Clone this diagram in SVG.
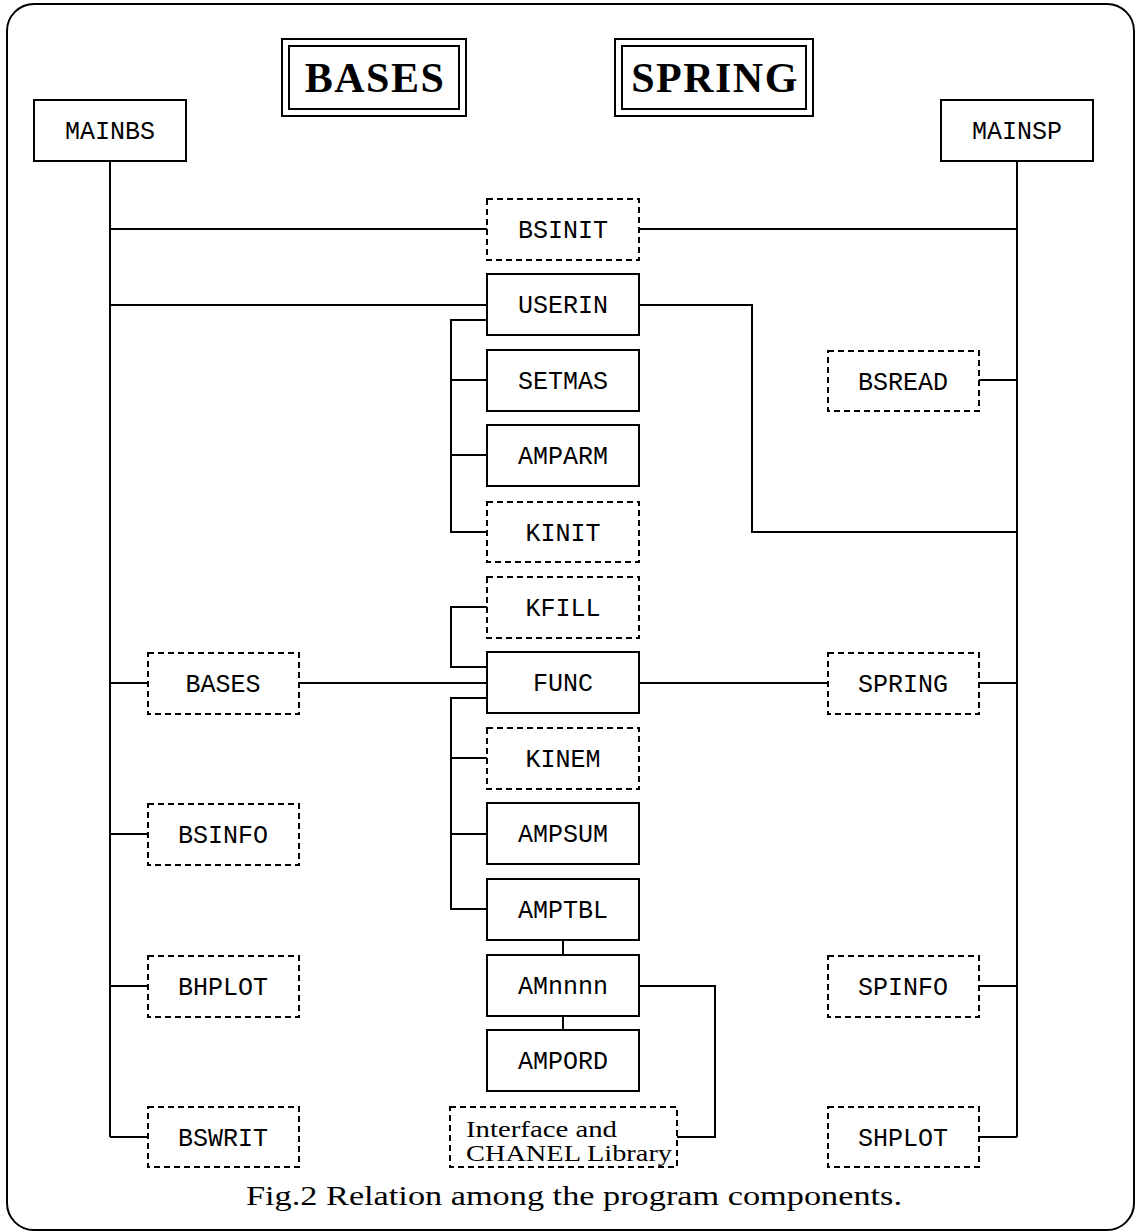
<svg xmlns="http://www.w3.org/2000/svg" width="1136" height="1232" viewBox="0 0 1136 1232">
<style>
.b{fill:#fff;stroke:#000;stroke-width:2}
.d{fill:#fff;stroke:#000;stroke-width:2;stroke-dasharray:6 4}
.t{font-family:"Liberation Mono","DejaVu Sans Mono",monospace;font-size:25px;text-anchor:middle;fill:#000}
.h{font-family:"Liberation Serif","Times New Roman",serif;font-size:42px;font-weight:bold;text-anchor:middle;letter-spacing:1.5px;fill:#000}
.s{font-family:"Liberation Serif","Times New Roman",serif;fill:#000}
#conn path{fill:none;stroke:#000;stroke-width:2}
</style>
<rect x="7" y="4" width="1127" height="1226" rx="27" ry="27" fill="#fff" stroke="#000" stroke-width="2"/>
<g id="conn">
<path d="M110 161V1137M1017 161V1137"/>
<path d="M110 229H487M639 229H1017"/>
<path d="M110 305H487M639 305H752V532H1017"/>
<path d="M487 320H451V532H487M451 380H487M451 455H487"/>
<path d="M979 380H1017"/>
<path d="M487 607H451V667H487"/>
<path d="M299 683H487M639 683H828M979 683H1017"/>
<path d="M110 683H148M110 834H148M110 986H148M110 1137H148"/>
<path d="M487 698H451V909H487M451 758H487M451 834H487"/>
<path d="M563 940V955M563 1016V1030"/>
<path d="M639 986H715V1137H677"/>
<path d="M979 986H1017M979 1137H1017"/>
</g>
<g id="title-bases"><rect class="b" x="282" y="39" width="184" height="77"/><rect class="b" x="289" y="46" width="170" height="63"/><text class="h" x="375" y="92">BASES</text></g>
<g id="title-spring"><rect class="b" x="615" y="39" width="198" height="77"/><rect class="b" x="622" y="46" width="184" height="63"/><text class="h" x="715" y="92">SPRING</text></g>
<g id="mainbs"><rect class="b" x="34" y="100" width="152" height="61"/><text class="t" x="110" y="139">MAINBS</text></g>
<g id="mainsp"><rect class="b" x="941" y="100" width="152" height="61"/><text class="t" x="1017" y="139">MAINSP</text></g>
<g id="bsinit"><rect class="d" x="487" y="199" width="152" height="61"/><text class="t" x="563" y="238">BSINIT</text></g>
<g id="userin"><rect class="b" x="487" y="274" width="152" height="61"/><text class="t" x="563" y="313">USERIN</text></g>
<g id="setmas"><rect class="b" x="487" y="350" width="152" height="61"/><text class="t" x="563" y="389">SETMAS</text></g>
<g id="amparm"><rect class="b" x="487" y="425" width="152" height="61"/><text class="t" x="563" y="464">AMPARM</text></g>
<g id="kinit"><rect class="d" x="487" y="502" width="152" height="60"/><text class="t" x="563" y="541">KINIT</text></g>
<g id="kfill"><rect class="d" x="487" y="577" width="152" height="61"/><text class="t" x="563" y="616">KFILL</text></g>
<g id="func"><rect class="b" x="487" y="652" width="152" height="61"/><text class="t" x="563" y="691">FUNC</text></g>
<g id="kinem"><rect class="d" x="487" y="728" width="152" height="61"/><text class="t" x="563" y="767">KINEM</text></g>
<g id="ampsum"><rect class="b" x="487" y="803" width="152" height="61"/><text class="t" x="563" y="842">AMPSUM</text></g>
<g id="amptbl"><rect class="b" x="487" y="879" width="152" height="61"/><text class="t" x="563" y="918">AMPTBL</text></g>
<g id="amnnnn"><rect class="b" x="487" y="955" width="152" height="61"/><text class="t" x="563" y="994">AMnnnn</text></g>
<g id="ampord"><rect class="b" x="487" y="1030" width="152" height="61"/><text class="t" x="563" y="1069">AMPORD</text></g>
<g id="interface"><rect class="d" x="450" y="1107" width="227" height="60"/><text class="s" x="466" y="1137" font-size="24" textLength="151" lengthAdjust="spacingAndGlyphs">Interface and</text><text class="s" x="466" y="1161" font-size="24" textLength="206" lengthAdjust="spacingAndGlyphs">CHANEL Library</text></g>
<g id="bases"><rect class="d" x="148" y="653" width="151" height="61"/><text class="t" x="223" y="692">BASES</text></g>
<g id="bsinfo"><rect class="d" x="148" y="804" width="151" height="61"/><text class="t" x="223" y="843">BSINFO</text></g>
<g id="bhplot"><rect class="d" x="148" y="956" width="151" height="61"/><text class="t" x="223" y="995">BHPLOT</text></g>
<g id="bswrit"><rect class="d" x="148" y="1107" width="151" height="60"/><text class="t" x="223" y="1146">BSWRIT</text></g>
<g id="bsread"><rect class="d" x="828" y="351" width="151" height="60"/><text class="t" x="903" y="390">BSREAD</text></g>
<g id="spring"><rect class="d" x="828" y="653" width="151" height="61"/><text class="t" x="903" y="692">SPRING</text></g>
<g id="spinfo"><rect class="d" x="828" y="956" width="151" height="61"/><text class="t" x="903" y="995">SPINFO</text></g>
<g id="shplot"><rect class="d" x="828" y="1107" width="151" height="60"/><text class="t" x="903" y="1146">SHPLOT</text></g>
<text class="s" x="246" y="1205" font-size="28" textLength="656" lengthAdjust="spacingAndGlyphs">Fig.2 Relation among the program components.</text>
</svg>
